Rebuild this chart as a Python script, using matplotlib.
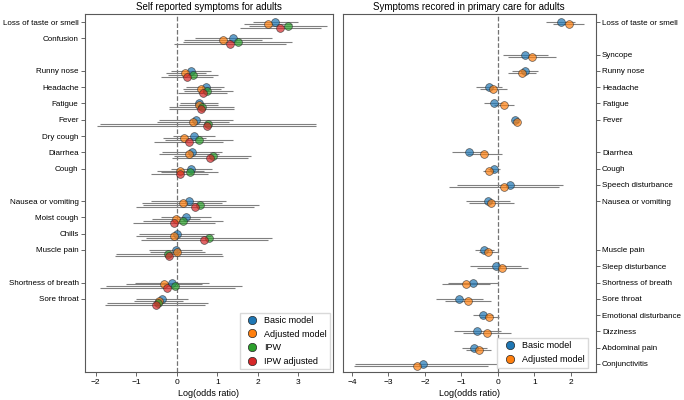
import matplotlib
matplotlib.use("Agg")
import matplotlib.pyplot as plt
from matplotlib.lines import Line2D

plt.rcParams['font.family'] = ['Liberation Sans', 'DejaVu Sans']

# all symptom rows, top to bottom (shared between the two panels)
ROWS = ["Loss of taste or smell", "Confusion", "Syncope", "Runny nose", "Headache",
        "Fatigue", "Fever", "Dry cough", "Diarrhea", "Cough", "Speech disturbance",
        "Nausea or vomiting", "Moist cough", "Chills", "Muscle pain",
        "Sleep disturbance", "Shortness of breath", "Sore throat",
        "Emotional disturbance", "Dizziness", "Abdominal pain", "Conjunctivitis"]

MODELS = ["Basic model", "Adjusted model", "IPW", "IPW adjusted"]
COLORS = ["tab:blue", "tab:orange", "tab:green", "tab:red"]

# self reported symptoms (left panel)
self_symptoms = ["Loss of taste or smell", "Confusion", "Runny nose", "Headache",
                 "Fatigue", "Fever", "Dry cough", "Diarrhea", "Cough",
                 "Nausea or vomiting", "Moist cough", "Chills", "Muscle pain",
                 "Shortness of breath", "Sore throat"]
self_est = {
    "Basic model":    [2.43, 1.39, 0.36, 0.72, 0.56, 0.48, 0.43, 0.38, 0.36, 0.30, 0.24, 0.01, -0.03, -0.11, -0.36],
    "Adjusted model": [2.25, 1.15, 0.20, 0.60, 0.54, 0.39, 0.17, 0.30, 0.09, 0.16, -0.01, -0.08, 0.01, -0.31, -0.44],
    "IPW":            [2.75, 1.51, 0.39, 0.75, 0.62, 0.77, 0.54, 0.89, 0.32, 0.58, 0.16, 0.79, -0.21, -0.05, -0.47],
    "IPW adjusted":   [2.55, 1.32, 0.25, 0.65, 0.61, 0.74, 0.30, 0.83, 0.07, 0.44, -0.07, 0.68, -0.19, -0.24, -0.52],
}
self_lo = {
    "Basic model":    [1.87, 0.46, -0.14, 0.23, 0.09, -0.44, -0.10, -0.36, -0.14, -0.63, -0.39, -0.92, -0.69, -1.02, -1.00],
    "Adjusted model": [1.66, 0.19, -0.26, 0.15, 0.05, -0.50, -0.34, -0.45, -0.50, -0.85, -0.60, -1.00, -0.67, -1.25, -1.05],
    "IPW":            [1.79, 0.15, -0.22, 0.19, -0.18, -1.90, -0.30, -0.06, -0.40, -0.84, -0.84, -0.75, -1.51, -1.74, -1.72],
    "IPW adjusted":   [1.57, -0.06, -0.39, 0.02, -0.20, -1.98, -0.55, -0.11, -0.63, -1.00, -1.08, -0.88, -1.53, -1.90, -1.77],
}
self_hi = {
    "Basic model":    [2.99, 2.34, 0.84, 1.17, 1.03, 1.40, 0.95, 1.11, 0.86, 1.21, 0.84, 0.93, 0.63, 0.80, 0.27],
    "Adjusted model": [2.85, 2.11, 0.72, 1.09, 1.03, 1.28, 0.72, 1.05, 0.68, 1.11, 0.58, 0.84, 0.69, 0.62, 0.15],
    "IPW":            [3.71, 2.85, 1.03, 1.38, 1.42, 3.43, 1.38, 1.83, 1.03, 2.03, 1.15, 2.36, 1.11, 1.61, 0.78],
    "IPW adjusted":   [3.55, 2.69, 0.89, 1.25, 1.42, 3.43, 1.15, 1.77, 0.78, 1.91, 0.95, 2.25, 1.13, 1.44, 0.70],
}

# primary care records (right panel)
care_symptoms = ["Loss of taste or smell", "Syncope", "Runny nose", "Headache", "Fatigue",
                 "Fever", "Diarrhea", "Cough", "Speech disturbance", "Nausea or vomiting",
                 "Muscle pain", "Sleep disturbance", "Shortness of breath", "Sore throat",
                 "Emotional disturbance", "Dizziness", "Abdominal pain", "Conjunctivitis"]
care_est = {
    "Basic model":    [1.73, 0.74, 0.75, -0.25, -0.12, 0.48, -0.79, -0.10, 0.32, -0.28, -0.37, -0.06, -0.68, -1.06, -0.40, -0.57, -0.65, -2.06],
    "Adjusted model": [1.95, 0.94, 0.65, -0.13, 0.16, 0.51, -0.37, -0.24, 0.16, -0.19, -0.27, 0.12, -0.88, -0.82, -0.23, -0.30, -0.53, -2.22],
}
care_lo = {
    "Basic model":    [1.32, 0.14, 0.38, -0.60, -0.39, 0.40, -1.26, -0.26, -1.12, -0.88, -0.62, -0.76, -1.37, -1.69, -0.67, -1.20, -0.99, -3.90],
    "Adjusted model": [1.50, 0.28, 0.27, -0.50, -0.11, 0.43, -0.85, -0.40, -1.33, -0.80, -0.53, -0.58, -1.53, -1.45, -0.50, -0.96, -0.88, -3.95],
}
care_hi = {
    "Basic model":    [2.12, 1.36, 1.11, 0.10, 0.15, 0.56, -0.30, 0.06, 1.77, 0.32, -0.12, 0.64, 0.00, -0.42, -0.13, 0.08, -0.31, -0.03],
    "Adjusted model": [2.37, 1.59, 1.04, 0.24, 0.43, 0.59, 0.11, -0.08, 1.66, 0.43, -0.01, 0.82, -0.21, -0.18, 0.03, 0.37, -0.18, -0.26],
}


def forest(ax, symptoms, est, lo, hi, models):
    rows = [ROWS.index(s) for s in symptoms]
    for k, m in enumerate(models):
        y = [r + 0.12 * k for r in rows]
        ax.hlines(y, lo[m], hi[m], color='0.5', lw=0.8, zorder=1)
        ax.plot(est[m], y, 'o', ms=5.6, mfc=COLORS[k], mec='0.15', mew=0.5,
                alpha=0.7, ls='none', zorder=3)
    ax.axvline(0, color='0.45', ls='--', lw=0.9, zorder=0)
    ax.set_yticks(rows)
    ax.set_yticklabels(symptoms)
    ax.set_ylim(len(ROWS) - 0.5, -0.5)
    ax.set_xlabel("Log(odds ratio)", fontsize=6.5, labelpad=2)
    ax.tick_params(labelsize=6, length=3, width=0.6, color='0.3', pad=2)
    ax.tick_params(axis='y', labelsize=5.8, pad=1.5)
    for sp in ax.spines.values():
        sp.set_color('0.35')
        sp.set_linewidth(0.8)
    handles = [Line2D([], [], marker='o', ls='none', ms=6, mfc=COLORS[k],
                      mec='0.15', mew=0.5) for k in range(len(models))]
    ax.legend(handles, models, loc='lower right', fontsize=6.5, handletextpad=0.3,
              borderaxespad=0.3, framealpha=1, edgecolor='0.85', fancybox=False)


fig = plt.figure(figsize=(6.84, 4.0), dpi=100)
ax1 = fig.add_axes([0.124, 0.07, 0.363, 0.895])
ax2 = fig.add_axes([0.501, 0.07, 0.370, 0.895])

forest(ax1, self_symptoms, self_est, self_lo, self_hi, MODELS)
ax1.set_xlim(-2.27, 3.86)
ax1.set_xticks([-2, -1, 0, 1, 2, 3])
ax1.set_title("Self reported symptoms for adults", fontsize=7, pad=3)

forest(ax2, care_symptoms, care_est, care_lo, care_hi, MODELS[:2])
ax2.set_xlim(-4.25, 2.68)
ax2.set_xticks([-4, -3, -2, -1, 0, 1, 2])
ax2.yaxis.tick_right()
ax2.set_title("Symptoms recored in primary care for adults", fontsize=7, pad=3)
ax2.get_legend().set_bbox_to_anchor((0.98, 0.005), transform=ax2.transAxes)

fig.savefig("out.png", dpi=100)
